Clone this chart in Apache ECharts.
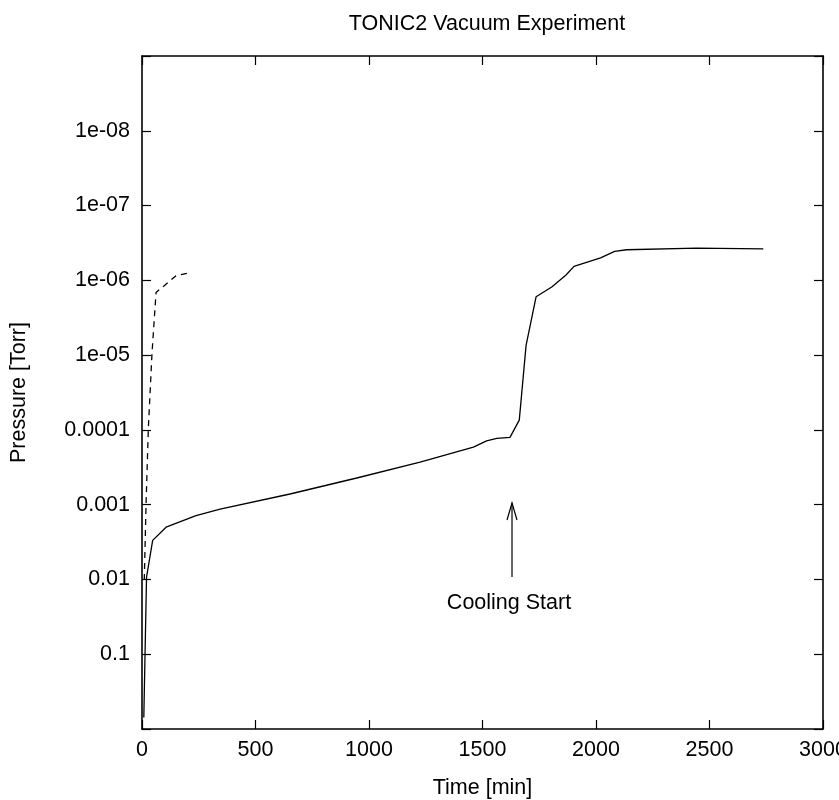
<!DOCTYPE html>
<html>
<head>
<meta charset="utf-8">
<script src="https://cdn.jsdelivr.net/npm/echarts@6/dist/echarts.min.js"></script>
<style>html,body{margin:0;padding:0;background:#fff}#c{width:839px;height:800px}</style>
</head>
<body>
<div id="c"></div>
<script>
// Solid line: main run (time in minutes, pressure in Torr)
var solidTime = [8, 20, 47, 106, 238, 344, 652, 946, 1225, 1460, 1518, 1563, 1621, 1662, 1692, 1736, 1805, 1868, 1903, 2020, 2082, 2135, 2443, 2737];
var solidPressure = [0.7, 0.0093, 0.0030, 0.0020, 0.0014, 0.00115, 0.00072, 0.00044, 0.00027, 0.00017, 0.00014, 0.00013, 0.000126, 7.4e-5, 7.4e-6, 1.66e-6, 1.23e-6, 8.5e-7, 6.5e-7, 5.0e-7, 4.1e-7, 3.9e-7, 3.7e-7, 3.8e-7];
// Dashed line: second run
var dashedTime = [10, 18, 28, 44, 62, 150, 209];
var dashedPressure = [0.0102, 9.5e-4, 9.5e-5, 9.5e-6, 1.45e-6, 8.7e-7, 7.9e-7];
// Annotation
var arrowTime = [1630];
var arrowFrom = [0.0093];
var arrowTo = [0.00095];
var arrowLabel = 'Cooling Start';
var labelPressure = [0.021];
var xTicks = [0, 500, 1000, 1500, 2000, 2500, 3000];

var FONT = 'Liberation Sans';
var FS = 21.5;

function zip(a, b) { return a.map(function (v, i) { return [v, b[i]]; }); }

function yFmt(v) {
  var e = Math.round(Math.log10(v));
  if (e === 0 || e === -9) return '';
  if (e >= -4) return Math.pow(10, e).toFixed(-e);
  return '1e-' + (-e < 10 ? '0' : '') + (-e);
}
function xFmt(v) { return String(Math.round(v)); }

function axisLine() { return { show: true, onZero: false, lineStyle: { color: '#000', width: 1.6 } }; }
function tickIn() { return { show: true, inside: true, length: 9, lineStyle: { color: '#000', width: 1.2 } }; }

var chart = echarts.init(document.getElementById('c'), null, { renderer: 'canvas' });
chart.setOption({
  animation: false,
  backgroundColor: '#fff',
  title: {
    text: 'TONIC2 Vacuum Experiment',
    left: 482, top: 8, textAlign: 'center',
    textStyle: { fontFamily: FONT, fontSize: FS, fontWeight: 'normal', color: '#000' }
  },
  grid: { left: 142, right: 16, top: 56, bottom: 71, containLabel: false, outerBoundsMode: 'none' },
  xAxis: [{
    type: 'value', min: 0, max: 3000, interval: 500, position: 'bottom',
    name: 'Time [min]', nameLocation: 'middle', nameGap: 48,
    nameTextStyle: { fontFamily: FONT, fontSize: FS, color: '#000' },
    axisLine: axisLine(), axisTick: tickIn(), splitLine: { show: false },
    axisLabel: { fontFamily: FONT, fontSize: FS, color: '#000', margin: 10, formatter: xFmt, hideOverlap: false }
  }, {
    type: 'value', min: 0, max: 3000, interval: 500, position: 'top',
    axisLine: axisLine(), axisTick: tickIn(), splitLine: { show: false }, axisLabel: { show: false }
  }],
  yAxis: [{
    type: 'log', logBase: 10, min: 1e-9, max: 1, inverse: true, interval: 1, position: 'left',
    name: 'Pressure [Torr]', nameLocation: 'middle', nameGap: 112, nameRotate: 90,
    nameTextStyle: { fontFamily: FONT, fontSize: FS, color: '#000' },
    axisLine: axisLine(), axisTick: tickIn(), splitLine: { show: false },
    axisLabel: { fontFamily: FONT, fontSize: FS, color: '#000', margin: 12, formatter: yFmt }
  }, {
    type: 'log', logBase: 10, min: 1e-9, max: 1, inverse: true, interval: 1, position: 'right',
    axisLine: axisLine(), axisTick: tickIn(), splitLine: { show: false }, axisLabel: { show: false }
  }],
  series: [{
    type: 'line', data: zip(solidTime, solidPressure), showSymbol: false, symbol: 'none',
    lineStyle: { color: '#000', width: 1.3 }, z: 3
  }, {
    type: 'line', data: zip(dashedTime, dashedPressure), showSymbol: false, symbol: 'none',
    lineStyle: { color: '#000', width: 1.3, type: [6, 5] }, z: 3
  }, {
    type: 'custom',
    data: [[arrowTime[0], arrowFrom[0], arrowTo[0], labelPressure[0]]],
    renderItem: function (params, api) {
      var p0 = api.coord([api.value(0), api.value(1)]);
      var p1 = api.coord([api.value(0), api.value(2)]);
      var pl = api.coord([api.value(0), api.value(3)]);
      var hw = 5, hl = 17;
      return {
        type: 'group',
        children: [{
          type: 'line', shape: { x1: p0[0], y1: p0[1], x2: p1[0], y2: p1[1] },
          style: { stroke: '#000', lineWidth: 1.2 }
        }, {
          type: 'polyline', shape: { points: [[p1[0] - hw, p1[1] + hl], [p1[0], p1[1]], [p1[0] + hw, p1[1] + hl]] },
          style: { stroke: '#000', lineWidth: 1.2, fill: null }
        }, {
          type: 'text', x: pl[0] - 3, y: pl[1],
          style: { text: arrowLabel, fontFamily: FONT, fontSize: FS, fill: '#000', align: 'center', verticalAlign: 'middle' }
        }]
      };
    }
  }]
});
</script>
</body>
</html>
